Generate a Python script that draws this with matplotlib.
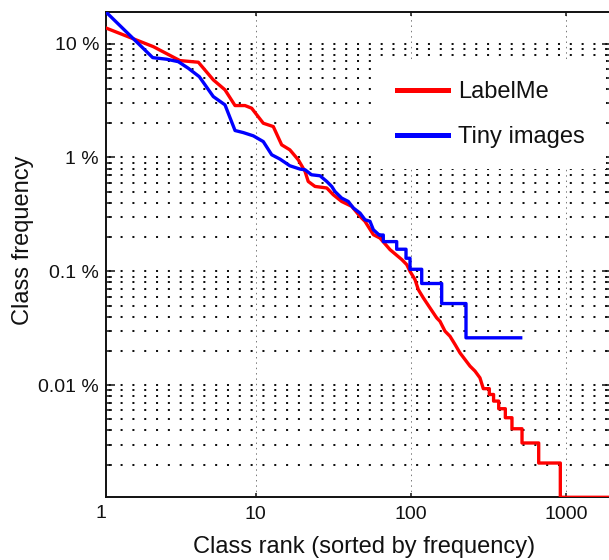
import numpy as np
import matplotlib
matplotlib.use("Agg")
import matplotlib.pyplot as plt
from matplotlib.ticker import FixedLocator, NullLocator, LogLocator, NullFormatter
import matplotlib.transforms as mtransforms

plt.rcParams['font.family'] = ['Liberation Sans', 'DejaVu Sans']

# LabelMe: frequency per class rank (head of the distribution)
red_rank = [1, 2.19, 3.25, 4.27, 5.33, 6.34, 7.36, 8.53, 9.42, 11.19, 12.98, 14.7,
            16.6, 18.8, 20.8, 21.8, 24.1, 28.7, 31.6, 35.8, 41.6, 47.0, 50.6, 57.3,
            63.2, 73.4, 87.3, 94.0, 98.7, 106.3, 111.6, 120.2, 139.4, 146.6, 154.0,
            165.9, 178.6, 192.4, 207.2, 223.2, 240.4, 258.8, 278.6, 292.8]
red_freq = [0.1434, 0.0941, 0.071, 0.0687, 0.0481, 0.0393, 0.0286, 0.0286, 0.0271,
            0.0200, 0.0187, 0.01292, 0.01168, 0.00955, 0.00754, 0.00616, 0.00557,
            0.0054, 0.00471, 0.00411, 0.00372, 0.00304, 0.00275, 0.0021, 0.00196,
            0.00155, 0.00127, 0.001146, 0.001, 0.000846, 0.000691, 0.000585,
            0.000432, 0.00039, 0.000364, 0.000298, 0.000269, 0.000228, 0.000192,
            0.000168, 0.000147, 0.000133, 0.000116, 0.0000932]
# LabelMe tail: rare classes with only a few instances
red_total = 96600
red_tail_rank = [292.8, 320, 341, 368, 406, 448, 520, 666, 918, 1950]
red_tail_count = [9, 8, 7, 6, 5, 4, 3, 2, 1]

# Tiny images: frequency per class rank (head)
blue_rank = [1, 2.17, 2.67, 3.17, 3.68, 4.33, 5.33, 6.34, 7.36, 8.32, 9.65, 11.19,
             12.68, 14.34, 16.6, 19.3, 20.8, 22.9, 25.97, 28.7, 30.9, 32.4, 35.8,
             39.5, 42.6, 47.0, 50.6, 54.5, 57.3, 62.6]
blue_freq = [0.2115, 0.0754, 0.073, 0.0695, 0.0608, 0.0513, 0.0343, 0.029, 0.01726,
             0.01655, 0.0155, 0.0138, 0.01057, 0.00968, 0.00846, 0.00791, 0.0078,
             0.00705, 0.00691, 0.00616, 0.00557, 0.00503, 0.0044, 0.00411, 0.0036,
             0.00325, 0.00284, 0.00275, 0.00232, 0.00208]
# Tiny images tail
blue_total = 3837
blue_tail_rank = [62.6, 66.4, 81.0, 93.0, 98.7, 117.4, 157.9, 226.5, 510]
blue_tail_count = [8, 7, 6, 5, 4, 3, 2, 1]

series_labels = ["LabelMe", "Tiny images"]
y_tick_values = [0.1, 0.01, 0.001, 0.0001]
y_tick_labels = ["10 %", "1 %", "0.1 %", "0.01 %"]
x_tick_values = [10, 100, 1000]
x_tick_labels = ["10", "100", "1000"]
x_min, x_max = 1.085, 1950
y_min, y_max = 1.035e-5, 0.1886


def with_tail(rank, freq, tail_rank, tail_count, total):
    """Append a staircase for the integer-count tail to a head curve."""
    xs, ys = list(rank), list(freq)
    for i, c in enumerate(tail_count):
        xs += [tail_rank[i], tail_rank[i + 1]]
        ys += [c / total, c / total]
    return xs, ys


rx, ry = with_tail(red_rank, red_freq, red_tail_rank, red_tail_count, red_total)
bx, by = with_tail(blue_rank, blue_freq, blue_tail_rank, blue_tail_count, blue_total)

fig = plt.figure(figsize=(6.09, 5.6), dpi=100)
ax = fig.add_axes([106 / 609, 62.7 / 560, (611.1 - 106) / 609, 485 / 560])
ax.set_xscale('log')
ax.set_yscale('log')
ax.set_xlim(x_min, x_max)
ax.set_ylim(y_min, y_max)

ax.plot(rx, ry, color='#ff0000', lw=2.4, label=series_labels[0], zorder=3)
ax.plot(bx, by, color='#0000ff', lw=2.4, label=series_labels[1], zorder=3)

# ticks
ax.xaxis.set_major_locator(FixedLocator(x_tick_values))
ax.set_xticklabels(x_tick_labels)
ax.xaxis.set_minor_locator(NullLocator())
ax.yaxis.set_major_locator(FixedLocator(y_tick_values))
ax.set_yticklabels(y_tick_labels)
ax.yaxis.set_minor_locator(LogLocator(base=10, subs=np.arange(2, 10)))
ax.yaxis.set_minor_formatter(NullFormatter())
ax.tick_params(axis='both', which='both', direction='in', colors='#111111',
               labelsize=14, width=1.1)
ax.tick_params(axis='x', which='major', length=3, pad=6, top=True, bottom=True)
ax.tick_params(axis='y', which='major', length=6.5, pad=5, left=True, right=True)
ax.tick_params(axis='y', which='minor', length=4.1, left=True, right=True)

# the rank-1 label sits just left of the axis edge
trans = mtransforms.blended_transform_factory(ax.transData, ax.transAxes)
ax.text(1, -0.0165, "1", transform=trans, ha='center', va='top', fontsize=14,
        color='#111111', clip_on=False)

# grid: dotted rows at every y tick, sparse dotted columns at x decades
ax.set_axisbelow(True)
ax.yaxis.grid(True, which='both', linestyle=(4.5, (1.0, 4.87)), linewidth=1.45,
              color='#111111')
ax.xaxis.grid(True, which='major', linestyle=(0, (1.5, 4)), linewidth=0.7,
              color='#777777')

for side in ['left', 'bottom', 'top', 'right']:
    ax.spines[side].set_linewidth(1.4)
    ax.spines[side].set_color('#111111')

ax.set_xlabel("Class rank (sorted by frequency)", fontsize=17, color='#111111')
ax.set_ylabel("Class frequency", fontsize=17, color='#111111')
ax.xaxis.set_label_coords(0.51, -0.08)
ax.yaxis.set_label_coords(-0.142, 0.53)

leg = ax.legend(loc='center', bbox_to_anchor=(491 / 609, 1 - 114.5 / 560),
                bbox_transform=fig.transFigure, fontsize=17, frameon=True,
                fancybox=False, edgecolor='none', facecolor='white', framealpha=1,
                handlelength=2.17, handletextpad=0.43, labelspacing=0.96,
                borderpad=0.9)
for line in leg.get_lines():
    line.set_linewidth(3.6)
for t in leg.get_texts():
    t.set_color('#111111')

fig.savefig("out.png", dpi=100)
